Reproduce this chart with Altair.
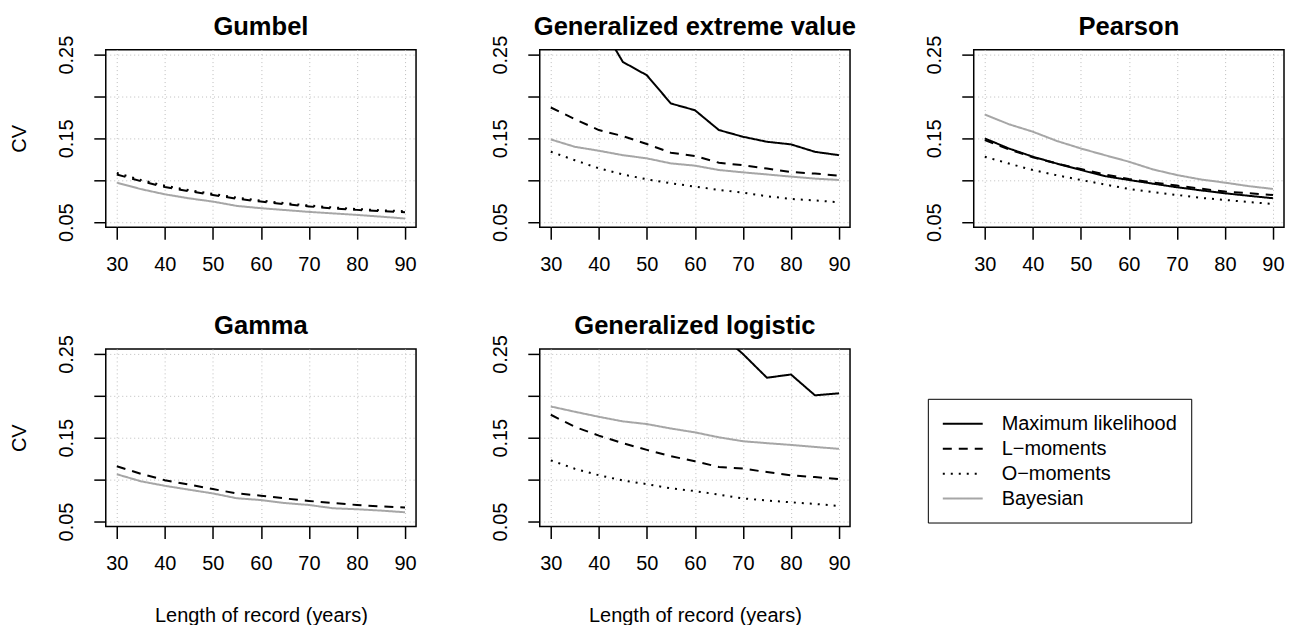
import altair as alt
import pandas as pd

years = [30, 35, 40, 45, 50, 55, 60, 65, 70, 75, 80, 85, 90]
methods = ["Maximum likelihood", "L\u2212moments", "O\u2212moments", "Bayesian"]

# Gumbel
gum_ml = None
gum_lm = [0.107, 0.099, 0.092, 0.087, 0.0825, 0.078, 0.0746, 0.0715, 0.0688, 0.0665, 0.0647, 0.0632, 0.062]
gum_om = [0.1088, 0.1005, 0.0935, 0.0883, 0.0838, 0.0793, 0.0758, 0.0727, 0.0699, 0.0676, 0.0657, 0.0642, 0.0631]
gum_by = [0.0972, 0.0895, 0.0833, 0.0785, 0.0746, 0.0694, 0.0667, 0.0645, 0.0623, 0.0605, 0.0587, 0.0566, 0.0544]

# Generalized extreme value
gev_ml = [0.38, 0.33, 0.29, 0.2413, 0.2254, 0.1917, 0.1837, 0.160, 0.152, 0.146, 0.1429, 0.134, 0.130]
gev_lm = [0.1869, 0.173, 0.160, 0.1528, 0.1433, 0.133, 0.129, 0.121, 0.118, 0.114, 0.110, 0.108, 0.1056]
gev_om = [0.1341, 0.124, 0.1143, 0.107, 0.1012, 0.0965, 0.0925, 0.0885, 0.0853, 0.081, 0.0778, 0.076, 0.0738]
gev_by = [0.1488, 0.140, 0.1353, 0.130, 0.1262, 0.1202, 0.1175, 0.1123, 0.1095, 0.107, 0.1044, 0.102, 0.1004]

# Pearson
pe_ml = [0.150, 0.138, 0.1282, 0.120, 0.1123, 0.105, 0.1004, 0.096, 0.0917, 0.088, 0.0845, 0.0815, 0.0786]
pe_lm = [0.148, 0.137, 0.1274, 0.120, 0.1135, 0.107, 0.1016, 0.0975, 0.0937, 0.090, 0.0865, 0.0845, 0.0825]
pe_om = [0.1282, 0.120, 0.1123, 0.106, 0.1004, 0.095, 0.0897, 0.086, 0.0825, 0.079, 0.0766, 0.074, 0.0718]
pe_by = [0.1786, 0.167, 0.158, 0.147, 0.138, 0.130, 0.1222, 0.113, 0.1063, 0.101, 0.0972, 0.093, 0.0897]

# Gamma
ga_ml = None
ga_lm = [0.1159, 0.107, 0.0993, 0.094, 0.0887, 0.0835, 0.0808, 0.0775, 0.0745, 0.072, 0.0697, 0.068, 0.0666]
ga_om = None
ga_by = [0.1064, 0.098, 0.0926, 0.088, 0.0835, 0.0777, 0.0756, 0.072, 0.0697, 0.0658, 0.0646, 0.063, 0.061]

# Generalized logistic
glo_ml = [0.46, 0.43, 0.40, 0.37, 0.35, 0.32, 0.30, 0.275, 0.25, 0.2216, 0.2255, 0.2006, 0.203]
glo_lm = [0.1774, 0.163, 0.1525, 0.1435, 0.1355, 0.128, 0.1218, 0.1151, 0.1131, 0.109, 0.1052, 0.103, 0.1005]
glo_om = [0.123, 0.113, 0.1052, 0.099, 0.0946, 0.0895, 0.0863, 0.082, 0.0776, 0.075, 0.0729, 0.071, 0.0685]
glo_by = [0.1873, 0.181, 0.175, 0.1695, 0.1663, 0.161, 0.1564, 0.1505, 0.1458, 0.1435, 0.1414, 0.139, 0.1367]

x_ticks = [30, 40, 50, 60, 70, 80, 90]
y_ticks = [0.05, 0.10, 0.15, 0.20, 0.25]

FONT = "Liberation Sans"
color_scale = alt.Scale(domain=methods, range=["#000000", "#000000", "#000000", "#a6a6a6"])
dash_scale = alt.Scale(domain=methods, range=[[1, 0], [9, 7], [2, 6], [1, 0]])
legend = alt.Legend(
    title=None, orient="none", legendX=824, legendY=350,
    symbolType="M-2,0H2", symbolSize=400, symbolStrokeWidth=2, symbolOffset=10,
    labelOffset=28, labelFontSize=20, labelFont=FONT, labelColor="black", labelLimit=400,
    strokeColor="black", padding=14, rowPadding=4,
)


def make_df(series):
    rows = []
    for m, vals in zip(methods, series):
        if vals is None:
            continue
        for yr, v in zip(years, vals):
            rows.append({"year": yr, "cv": v, "method": m})
    return pd.DataFrame(rows)


def panel(title, series, left, bottom):
    df = make_df(series)
    xaxis = alt.Axis(
        values=x_ticks, title="Length of record (years)" if bottom else None,
        domain=False, tickSize=12, tickWidth=1.5, tickColor="black",
        labelFontSize=20, labelFont=FONT, labelColor="black", labelPadding=15,
        labelOverlap=False, labelFlush=False,
        titleFontSize=20, titleFont=FONT, titleFontWeight="normal", titleColor="black",
        titlePadding=32,
        grid=True, gridDash=[1, 3], gridColor="#bdbdbd", gridWidth=1,
    )
    yaxis = alt.Axis(
        values=y_ticks, format=".2f", title="CV" if left else None,
        labelExpr="indexof(['0.05','0.15','0.25'], datum.label) >= 0 ? datum.label : ''",
        domain=False, tickSize=12, tickWidth=1.5, tickColor="black",
        labelFontSize=20, labelFont=FONT, labelColor="black", labelPadding=21,
        labelAngle=270, labelAlign="center", labelBaseline="alphabetic",
        labelOverlap=False, labelFlush=False,
        titleFontSize=20, titleFont=FONT, titleFontWeight="normal", titleColor="black",
        titlePadding=27,
        grid=True, gridDash=[1, 3], gridColor="#bdbdbd", gridWidth=1,
    )
    return (
        alt.Chart(
            df,
            title=alt.TitleParams(title, fontSize=25.6, fontWeight="bold", font=FONT,
                                  color="black", anchor="middle", baseline="alphabetic", offset=-25),
        )
        .mark_line(clip=True, strokeWidth=2, strokeCap="butt")
        .encode(
            x=alt.X("year:Q", scale=alt.Scale(domain=[27.7, 92.3], nice=False, zero=False), axis=xaxis),
            y=alt.Y("cv:Q", scale=alt.Scale(domain=[0.044, 0.256], nice=False, zero=False), axis=yaxis),
            color=alt.Color("method:N", scale=color_scale, legend=legend),
            strokeDash=alt.StrokeDash("method:N", scale=dash_scale, legend=legend),
        )
        .properties(width=311, height=178)
    )


p1 = panel("Gumbel", [gum_ml, gum_lm, gum_om, gum_by], True, False)
p2 = panel("Generalized extreme value", [gev_ml, gev_lm, gev_om, gev_by], False, False)
p3 = panel("Pearson", [pe_ml, pe_lm, pe_om, pe_by], False, False)
p4 = panel("Gamma", [ga_ml, ga_lm, ga_om, ga_by], True, True)
p5 = panel("Generalized logistic", [glo_ml, glo_lm, glo_om, glo_by], False, True)

chart = (
    alt.concat(p1, p2, p3, p4, p5, columns=3, spacing={"row": 122, "column": 124}, bounds="flush")
    .resolve_scale(x="independent", y="independent", color="shared", strokeDash="shared")
    .properties(padding={"left": 1, "top": 5, "right": 0, "bottom": 0})
    .configure(font=FONT)
    .configure_view(stroke="black", strokeWidth=1.5)
)

chart.save("out.html", embed_options={"renderer": "svg", "actions": False})
